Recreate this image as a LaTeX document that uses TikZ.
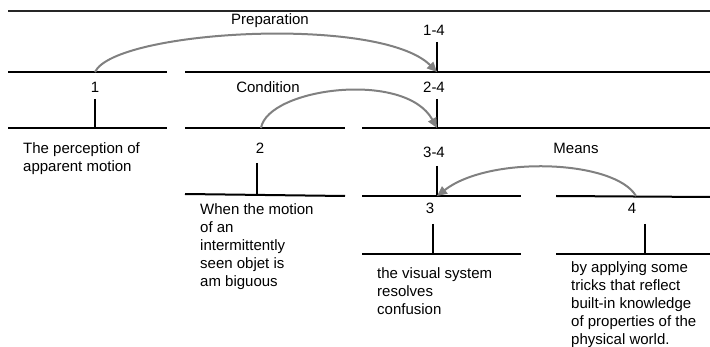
\documentclass[tikz,border=0pt]{standalone}
\usepackage{fontspec}
\setmainfont{Liberation Sans}
\usetikzlibrary{arrows.meta}
\definecolor{arcgray}{RGB}{128,128,128}
\begin{document}
\begin{tikzpicture}[x=1pt,y=-1pt,
  txt/.style={font=\fontsize{15}{18}\selectfont, inner sep=0pt},
  multi/.style={txt, align=left, anchor=north west},
  bar/.style={line width=2pt, black},
  topbar/.style={line width=1.5pt, black!85},
  rel/.style={line width=2pt, draw=arcgray, -{Triangle[length=10pt,width=9pt,fill=arcgray]}}]
\useasboundingbox (0,0) rectangle (710,347);
% horizontal levels
\draw[topbar] (8,11) -- (710,11);
\draw[bar] (8,72) -- (167,72);
\draw[bar] (185,72) -- (710,72);
\draw[bar] (8,128) -- (167,128);
\draw[bar] (185,128) -- (345,128);
\draw[bar] (362,128) -- (710,128);
\draw[bar] (185,194) -- (345,196);
\draw[bar] (362,196) -- (521,196);
\draw[bar] (556,196) -- (710,197);
\draw[bar] (362,254) -- (521,254);
\draw[bar] (556,254) -- (710,254);
% ticks
\draw[bar] (437,42) -- (437,72);
\draw[bar] (437,99) -- (437,128);
\draw[bar] (437,166) -- (437,196);
\draw[bar] (95,99) -- (95,128);
\draw[bar] (257,163) -- (257,194);
\draw[bar] (433,224) -- (433,254);
\draw[bar] (645,224) -- (645,254);
% labels
\node[txt] (prep) at (270,21) {Preparation};
\node[txt] (l14) at (434,30) {1-4};
\node[txt] (n1) at (95,87) {1};
\node[txt] (cond) at (268,87) {Condition};
\node[txt] (l24) at (434,87) {2-4};
\node[txt] (l34) at (434,152) {3-4};
\node[txt] (means) at (576,148) {Means};
\node[txt] (n2) at (260,148) {2};
\node[txt] (n3) at (430,208) {3};
\node[txt] (n4) at (632,208) {4};
\node[multi] (t1) at (23,142) {The perception of\\apparent motion};
\node[multi] (t2) at (200,203) {When the motion\\of an\\intermittently\\seen objet is\\am biguous};
\node[multi] (t3) at (377,267) {the visual system\\resolves\\confusion};
\node[multi] (t4) at (571,261) {by applying some\\tricks that reflect\\built-in knowledge\\of properties of the\\physical world.};
% arc endpoints
\coordinate (s1) at (95,72);
\coordinate (e1) at (437,72);
\coordinate (s2) at (261,128);
\coordinate (e2) at (437,128);
\coordinate (s4) at (636,196);
\coordinate (e3) at (437,196);
% relation arcs
\draw[rel] (s1) .. controls (115,30) and (380,15) .. (e1);
\draw[rel] (s2) .. controls (268,88) and (405,70) .. (e2);
\draw[rel] (s4) .. controls (615,160) and (490,155) .. (e3);
\end{tikzpicture}
\end{document}
